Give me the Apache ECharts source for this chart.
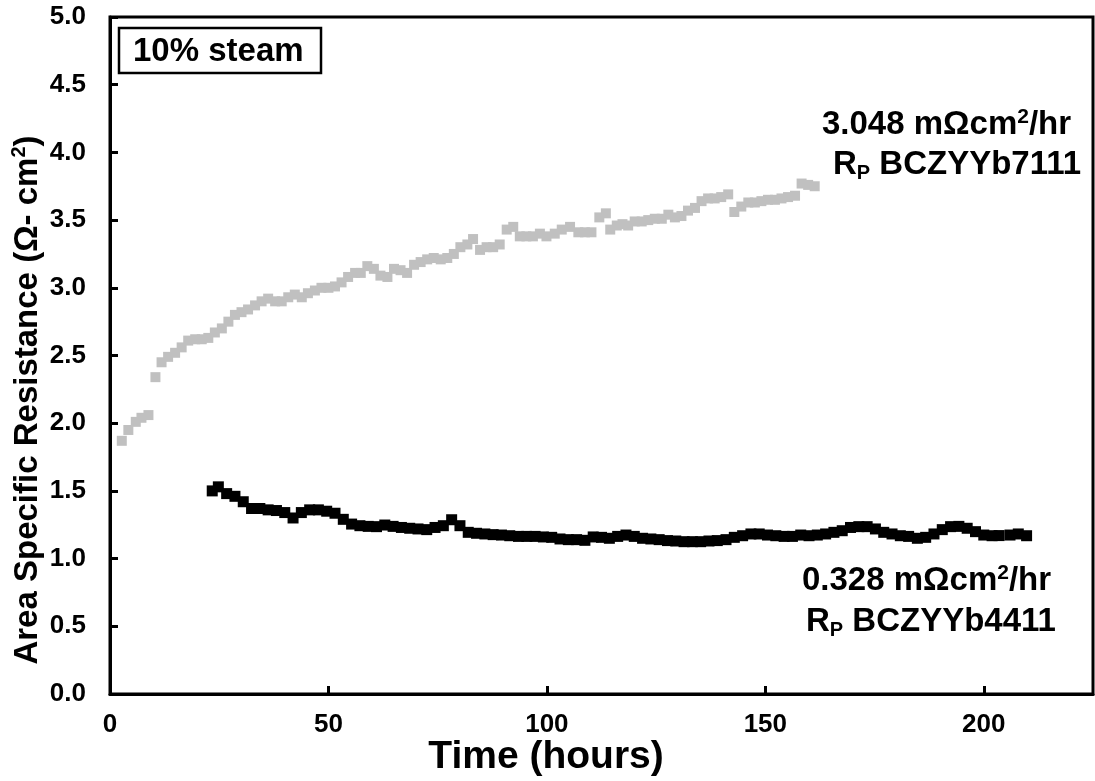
<!DOCTYPE html>
<html>
<head>
<meta charset="utf-8">
<script src="https://cdn.jsdelivr.net/npm/echarts@6/dist/echarts.min.js"></script>
<style>
  html, body { margin: 0; padding: 0; background: #fff; }
  #chart { width: 1095px; height: 781px; }
</style>
</head>
<body>
<div id="chart"></div>
<script>
// BCZYYb7111 polarization resistance vs time (grey squares)
const timeGrey = [2.7, 4.2, 5.9, 7.2, 8.8, 10.4, 11.8, 13.3, 14.9, 16.4, 17.9, 19.5, 21.0, 22.5, 24.0, 25.6,
  27.1, 28.6, 30.1, 31.6, 33.2, 34.7, 36.2, 37.8, 39.3, 40.8, 42.3, 43.9, 45.3, 46.9, 48.4, 50.0, 51.5, 53.0,
  54.5, 56.1, 57.4, 58.9, 60.4, 61.9, 63.5, 65.0, 66.5, 68.0, 69.6, 71.1, 72.6, 74.1, 75.7, 77.2, 78.7, 80.2,
  81.8, 83.1, 84.7, 86.2, 87.7, 89.2, 90.8, 92.3, 93.8, 95.3, 96.8, 98.4, 99.9, 101.8, 103.4, 105.3, 107.2,
  108.7, 110.2, 112.0, 113.5, 114.5, 116.0, 117.3, 118.6, 120.1, 121.7, 123.2, 124.7, 126.3, 127.8, 129.3,
  130.8, 132.3, 133.9, 135.4, 136.9, 138.4, 139.9, 141.5, 142.9, 144.5, 146.1, 147.6, 149.1, 150.6, 152.2,
  153.7, 155.2, 156.8, 158.3, 159.8, 161.3];
const asrGrey = [1.87, 1.95, 2.01, 2.04, 2.06, 2.34, 2.45, 2.49, 2.52, 2.56, 2.61, 2.62, 2.62, 2.63, 2.67, 2.70,
  2.75, 2.80, 2.82, 2.84, 2.87, 2.90, 2.92, 2.90, 2.90, 2.93, 2.95, 2.93, 2.96, 2.98, 3.00, 3.00, 3.01, 3.04,
  3.08, 3.11, 3.11, 3.16, 3.14, 3.09, 3.08, 3.14, 3.13, 3.11, 3.17, 3.19, 3.21, 3.22, 3.21, 3.22, 3.25, 3.30,
  3.32, 3.36, 3.28, 3.30, 3.30, 3.32, 3.43, 3.45, 3.38, 3.38, 3.38, 3.40, 3.38, 3.40, 3.43, 3.45, 3.41,
  3.41, 3.41, 3.52, 3.55, 3.43, 3.46, 3.47, 3.46, 3.49, 3.49, 3.50, 3.51, 3.51, 3.54, 3.52,
  3.53, 3.57, 3.59, 3.64, 3.66, 3.66, 3.67, 3.69, 3.56, 3.60, 3.63, 3.63, 3.64, 3.65, 3.65,
  3.66, 3.67, 3.68, 3.77, 3.76, 3.75];

// BCZYYb4411 polarization resistance vs time (black squares)
const timeBlack = [23.4, 24.8, 26.7, 28.6, 30.5, 32.4, 34.3, 36.2, 38.1, 40.0, 41.9, 43.8, 45.7, 47.7, 49.6,
  51.5, 53.4, 55.3, 57.2, 59.1, 61.0, 62.9, 64.8, 66.7, 68.6, 70.5, 72.5, 74.4, 76.3, 78.2, 80.1, 82.0, 83.9,
  85.8, 87.7, 89.6, 91.5, 93.5, 95.4, 97.3, 99.2, 101.1, 103.0, 104.9, 106.8, 108.7, 110.6, 112.5, 114.3,
  116.2, 118.1, 120.0, 121.9, 123.8, 125.7, 127.6, 129.5, 131.4, 133.3, 135.2, 137.1, 139.0, 141.0, 142.9,
  144.8, 146.7, 148.6, 150.5, 152.4, 154.3, 156.2, 158.1, 160.0, 161.9, 163.8, 165.7, 167.6, 169.5, 171.4,
  173.3, 175.2, 177.1, 179.0, 180.9, 182.8, 184.8, 186.7, 188.6, 190.5, 192.4, 194.3, 196.2, 198.1, 200.0,
  201.9, 203.5, 206.0, 207.9, 209.8];
const asrBlack = [1.50, 1.53, 1.48, 1.46, 1.42, 1.37, 1.37, 1.36, 1.355, 1.34, 1.30, 1.34, 1.36, 1.36, 1.35,
  1.335, 1.29, 1.255, 1.243, 1.238, 1.236, 1.248, 1.238, 1.23, 1.224, 1.219, 1.214, 1.23, 1.243, 1.287, 1.243, 1.194, 1.187,
  1.182, 1.177, 1.174, 1.169, 1.164, 1.164, 1.164, 1.16, 1.157, 1.145, 1.14, 1.14, 1.135, 1.16, 1.157, 1.15,
  1.164, 1.174, 1.164, 1.15, 1.145, 1.14, 1.133, 1.13, 1.125, 1.125, 1.125, 1.13, 1.133, 1.14, 1.157,
  1.169, 1.182, 1.182, 1.174, 1.169, 1.164, 1.164, 1.174, 1.169, 1.174, 1.182, 1.194, 1.206, 1.23, 1.236,
  1.236, 1.219, 1.194, 1.182, 1.169, 1.164, 1.15, 1.157, 1.182, 1.214, 1.236, 1.238, 1.224, 1.199, 1.174,
  1.169, 1.17, 1.174, 1.182, 1.169];

const yTicks = ['0.0', '0.5', '1.0', '1.5', '2.0', '2.5', '3.0', '3.5', '4.0', '4.5', '5.0'];
const xTicks = ['0', '50', '100', '150', '200'];

const FONT = "'Liberation Sans', Arial, Helvetica, sans-serif";

const pair = (xs, ys) => xs.map((x, i) => [x, ys[i]]);

// shared rich-text styles: body text, superscript and subscript
const richStyles = (size, supSize, lh) => ({
  t: { fontSize: size, fontWeight: 'bold', fontFamily: FONT, fill: '#000', lineHeight: lh },
  sup: { fontSize: supSize, fontWeight: 'bold', fontFamily: FONT, fill: '#000', lineHeight: Math.round(supSize * 1.2), verticalAlign: 'top' },
  sub: { fontSize: 20, fontWeight: 'bold', fontFamily: FONT, fill: '#000', lineHeight: 20, verticalAlign: 'bottom' }
});

const chart = echarts.init(document.getElementById('chart'), null, { renderer: 'canvas' });

chart.setOption({
  animation: false,
  backgroundColor: '#ffffff',
  grid: {
    left: 110, right: 2, top: 17, bottom: 87,
    show: true, borderColor: '#000', borderWidth: 3, backgroundColor: 'transparent'
  },
  xAxis: {
    type: 'value', min: 0, max: 225, interval: 50,
    axisLine: { show: true, onZero: false, lineStyle: { color: '#000', width: 3 } },
    axisTick: { show: true, inside: true, length: 8, lineStyle: { color: '#000', width: 3 } },
    splitLine: { show: false },
    axisLabel: {
      margin: 18, color: '#000', fontSize: 26, fontWeight: 'bold', fontFamily: FONT,
      showMaxLabel: false,
      formatter: v => xTicks.includes(String(v)) ? String(v) : ''
    }
  },
  yAxis: {
    type: 'value', min: 0, max: 5, interval: 0.5,
    axisLine: { show: true, onZero: false, lineStyle: { color: '#000', width: 3 } },
    axisTick: { show: true, inside: true, length: 8, lineStyle: { color: '#000', width: 3 } },
    splitLine: { show: false },
    axisLabel: {
      margin: 24, color: '#000', fontSize: 26, fontWeight: 'bold', fontFamily: FONT,
      formatter: v => yTicks[Math.round(v * 2)]
    }
  },
  series: [
    {
      name: 'BCZYYb7111', type: 'scatter', symbol: 'rect', symbolSize: 10,
      itemStyle: { color: '#c0c0c0', opacity: 1 },
      data: pair(timeGrey, asrGrey)
    },
    {
      name: 'BCZYYb4411', type: 'scatter', symbol: 'rect', symbolSize: 11,
      itemStyle: { color: '#000000', opacity: 1 },
      data: pair(timeBlack, asrBlack)
    }
  ],
  graphic: [
    // axis titles
    {
      type: 'text', x: 546, y: 757,
      style: {
        text: 'Time (hours)', fill: '#000', font: `bold 39px ${FONT}`,
        textAlign: 'center', textVerticalAlign: 'middle'
      }
    },
    {
      type: 'text', x: 28, y: 400, rotation: Math.PI / 2,
      style: {
        text: '{t|Area Specific Resistance (Ω- cm}{sup|2}{t|)}',
        textAlign: 'center', textVerticalAlign: 'middle',
        rich: richStyles(33, 20, 38)
      }
    },
    // condition box
    {
      type: 'rect', shape: { x: 119, y: 28, width: 202, height: 45 },
      style: { fill: '#fff', stroke: '#000', lineWidth: 2.5 }
    },
    {
      type: 'text', x: 133, y: 52,
      style: {
        text: '10% steam', fill: '#000', font: `bold 33px ${FONT}`,
        textAlign: 'left', textVerticalAlign: 'middle'
      }
    },
    // degradation rate labels
    {
      type: 'text', x: 822, y: 125,
      style: {
        text: '{t|3.048 mΩcm}{sup|2}{t|/hr}',
        textAlign: 'left', textVerticalAlign: 'middle',
        rich: richStyles(33, 21, 36)
      }
    },
    {
      type: 'text', x: 833, y: 165,
      style: {
        text: '{t|R}{sub|P}{t| BCZYYb7111}',
        textAlign: 'left', textVerticalAlign: 'middle',
        rich: richStyles(33, 21, 36)
      }
    },
    {
      type: 'text', x: 802, y: 581,
      style: {
        text: '{t|0.328 mΩcm}{sup|2}{t|/hr}',
        textAlign: 'left', textVerticalAlign: 'middle',
        rich: richStyles(33, 21, 36)
      }
    },
    {
      type: 'text', x: 806, y: 622,
      style: {
        text: '{t|R}{sub|P}{t| BCZYYb4411}',
        textAlign: 'left', textVerticalAlign: 'middle',
        rich: richStyles(33, 21, 36)
      }
    }
  ]
});
</script>
</body>
</html>
